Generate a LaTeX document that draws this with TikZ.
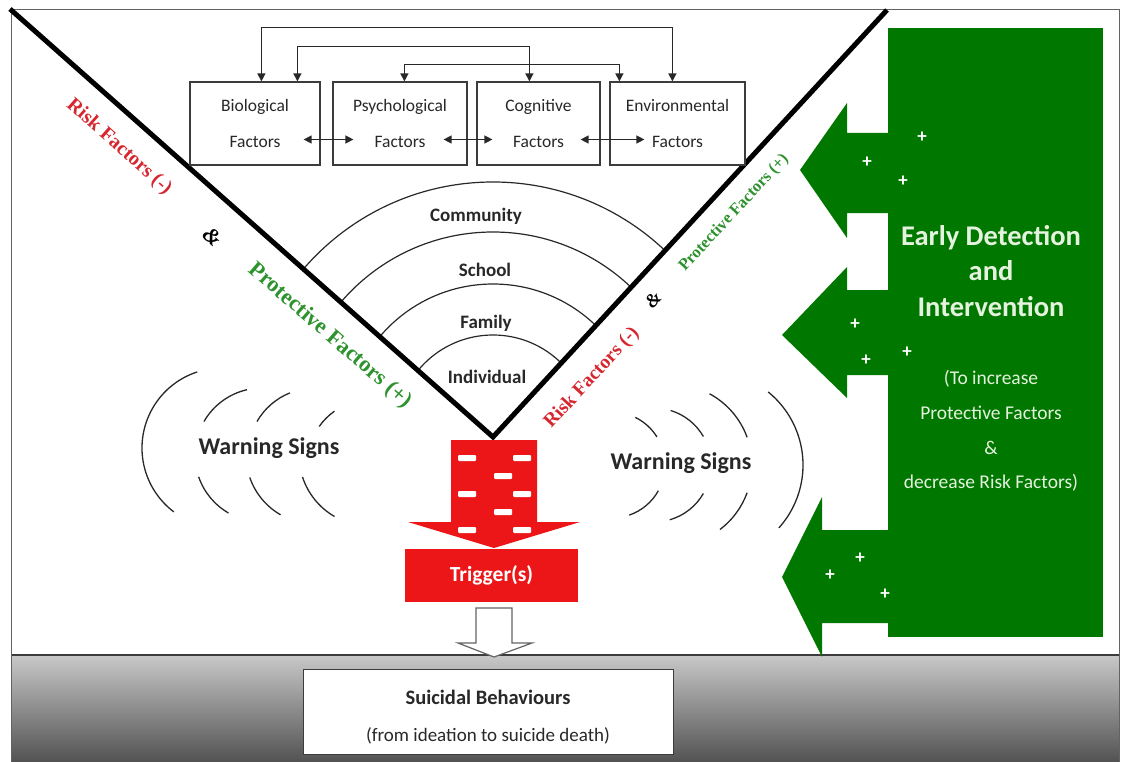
\documentclass[tikz,border=0pt]{standalone}
\usepackage{fontspec}
\setmainfont{Carlito}
\newfontfamily\labelserif{Liberation Serif}
\usetikzlibrary{arrows.meta,calc}

\definecolor{boxline}{RGB}{60,60,60}
\definecolor{ink}{RGB}{40,40,40}
\definecolor{riskred}{RGB}{214,38,48}
\definecolor{protgreen}{RGB}{46,146,46}
\definecolor{deepgreen}{RGB}{0,120,0}
\definecolor{alarmred}{RGB}{236,22,24}
\definecolor{palegreen}{RGB}{228,242,222}
\definecolor{bandtop}{RGB}{200,200,200}
\definecolor{bandbottom}{RGB}{82,82,82}

% one piece of a "signal" arc: centre, start angle, end angle, radius
\newcommand\wavearc[4]{\draw[wave] (#1) ++(#2:#4) arc[start angle=#2, end angle=#3, radius=#4];}

\begin{document}
\begin{tikzpicture}[x=1pt,y=-1pt,
  factor/.style={draw=boxline, line width=1.2pt, fill=white, minimum height=83pt,
    text=ink, align=center, inner sep=0pt, font=\fontsize{17.5}{36}\selectfont},
  link/.style={draw=ink, line width=1.3pt, {Triangle[length=8pt,width=8pt]}-{Triangle[length=8pt,width=8pt]}},
  ring/.style={draw=ink, line width=1.2pt},
  ringlabel/.style={text=ink, font=\bfseries\fontsize{19}{22}\selectfont, inner sep=0pt},
  wave/.style={draw=ink, line width=1.3pt},
  warn/.style={text=ink, font=\bfseries\fontsize{24}{28}\selectfont, inner sep=0pt},
  sidelabel/.style={font=\labelserif\bfseries, inner sep=0pt},
  plus/.style={text=white, font=\bfseries\fontsize{19}{20}\selectfont, inner sep=0pt},
  greentext/.style={text=palegreen, align=center, inner sep=0pt},
]
\useasboundingbox (0,0) rectangle (1123,762);
\fill[white] (0,0) rectangle (1123,762);

% ground band
\shade[top color=bandtop, bottom color=bandbottom] (11,655) rectangle (1119,762);
\draw[boxline, line width=1.2pt] (11,655) -- (1119,655);

% outer frame
\draw[boxline!80, line width=1pt] (11,10) rectangle (1119,762);

% early detection block with its three arrows
\fill[deepgreen] (888,28) rectangle (1103,637);
\fill[deepgreen] (888,133) -- (847,133) -- (847,103) -- (800,170) -- (847,238) -- (847,213) -- (888,213) -- cycle;
\fill[deepgreen] (888,290) -- (847,290) -- (847,267) -- (782,335) -- (847,398) -- (847,375) -- (888,375) -- cycle;
\fill[deepgreen] (888,530) -- (822,530) -- (822,497) -- (782,577) -- (822,657) -- (822,623) -- (888,623) -- cycle;
\foreach \px/\py [count=\i] in {922/137,867/162,903/181,855/324,866/360,907/352,860/558,830/575,885/594}
  \node[plus] (plus\i) at (\px,\py) {+};
\node[greentext, font=\bfseries\fontsize{28.5}{35.5}\selectfont] (edi) at (991,271)
  {Early Detection\\and\\Intervention};
\node[greentext, font=\fontsize{19.5}{34.7}\selectfont] (aim) at (991,431)
  {(To increase\\Protective Factors\\\&\\decrease Risk Factors)};

% ecological rings inside the V
\begin{scope}
  \clip (10,9) -- (493,437) -- (887,10) -- cycle;
  \foreach \r in {250,200,148,97}
    \draw[ring] (493,432) circle[radius=\r];
\end{scope}
\node[ringlabel] (community) at (476,216) {Community};
\node[ringlabel] (school) at (485,270) {School};
\node[ringlabel] (family) at (486,323) {Family};
\node[ringlabel] (individual) at (487,377) {Individual};

% the V
\coordinate (vleft) at (10,9);
\coordinate (apex) at (493,437);
\coordinate (vright) at (887,10);
\draw[line width=5pt, line join=miter] (vleft) -- (apex) -- (vright);

% labels along the V
\node[sidelabel, text=riskred, font=\labelserif\bfseries\fontsize{20}{24}\selectfont, rotate=-41.6] (riskL) at (119,147) {Risk Factors (-)};
\node[sidelabel, text=black, font=\labelserif\bfseries\itshape\fontsize{22}{24}\selectfont, rotate=-41.6] (andL) at (213,237) {\&};
\node[sidelabel, text=protgreen, font=\labelserif\bfseries\fontsize{22.5}{26}\selectfont, rotate=-41] (protL) at (330,336) {Protective Factors (+)};
\node[sidelabel, text=protgreen, font=\labelserif\bfseries\fontsize{16.5}{20}\selectfont, rotate=47.3] (protR) at (734,213) {Protective Factors (+)};
\node[sidelabel, text=black, font=\labelserif\bfseries\itshape\fontsize{19}{22}\selectfont, rotate=47.3] (andR) at (653,300) {\&};
\node[sidelabel, text=riskred, font=\labelserif\bfseries\fontsize{19.5}{24}\selectfont, rotate=47.3] (riskR) at (592,378) {Risk Factors (-)};

% factor boxes
\node[factor, minimum width=130pt] (bio) at (255,123.5) {Biological\\Factors};
\node[factor, minimum width=134pt] (psy) at (400,123.5) {Psychological\\Factors};
\node[factor, minimum width=123pt] (cog) at (538.5,123.5) {Cognitive\\Factors};
\node[factor, minimum width=135pt] (env) at (677.5,123.5) {Environmental\\Factors};

\draw[link] ($(bio.north west)+(72,0)$) |- ($(env.north west)+(63,-54)$) -- ($(env.north west)+(63,0)$);
\draw[link] ($(bio.north west)+(108,0)$) |- ($(cog.north west)+(53,-35)$) -- ($(cog.north west)+(53,0)$);
\draw[link] ($(psy.north west)+(72,0)$) |- ($(env.north west)+(10,-17)$) -- ($(env.north west)+(10,0)$);
\draw[link] ($(bio.east)+(-17,16)$) -- ($(psy.west)+(21,16)$);
\draw[link] ($(psy.east)+(-24,16)$) -- ($(cog.west)+(16,16)$);
\draw[link] ($(cog.east)+(-20,16)$) -- ($(env.west)+(35,16)$);

% warning signs, left
\node[warn] (warnL) at (269,448) {Warning Signs};
\wavearc{222,448}{-108}{-233}{80}
\wavearc{262,455}{-150}{-103}{67}
\wavearc{262,455}{-199}{-240}{67}
\wavearc{315,455}{-150}{-112}{67}
\wavearc{315,455}{-199}{-240}{69}
\wavearc{370,462}{-145}{-125}{62}
\wavearc{370,455}{-198}{-240}{71}

% warning signs, right
\node[warn] (warnR) at (681,463) {Warning Signs};
\wavearc{709,465}{-51}{42}{94}
\wavearc{671,465}{-61.6}{-20}{81}
\wavearc{671,465}{20}{52.8}{81}
\wavearc{654,465}{-73}{-30}{57}
\wavearc{654,465}{30}{74}{57}
\wavearc{612,465}{-64}{-32}{53}
\wavearc{612,465}{29}{71}{53}

% red block arrow below the apex
\fill[alarmred] (451,440) -- (537,440) -- (537,522) -- (580,522) -- (494,548) -- (408,522) -- (451,522) -- cycle;
\foreach \dx/\dy in {467/458,522/458,503/476,467/494,522/494,503/512,467/530,522/530}
  \fill[white, rounded corners=1pt] (\dx,\dy) +(-9,-3) rectangle +(9,3);

\node[fill=alarmred, minimum width=173pt, minimum height=53pt, inner sep=0pt,
  text=white, font=\bfseries\fontsize{21.5}{25}\selectfont] (trigger) at (491.5,575.5) {Trigger(s)};

% hollow arrow into the outcome box
\draw[draw=boxline!80, fill=white, line width=1.2pt, line join=miter]
  (476,608) -- (512,608) -- (512,643) -- (532,643) -- (494,657) -- (458,643) -- (476,643) -- cycle;

\node[draw=boxline, line width=1pt, fill=white, minimum width=370pt, minimum height=85pt] (behav) at (488,711.5) {};
\node[text=ink, font=\bfseries\fontsize{20.5}{22}\selectfont, inner sep=0pt] (behavtitle) at (488,697) {Suicidal Behaviours};
\node[text=ink, font=\fontsize{19}{22}\selectfont, inner sep=0pt] (behavsub) at (488,736) {(from ideation to suicide death)};
\end{tikzpicture}
\end{document}
